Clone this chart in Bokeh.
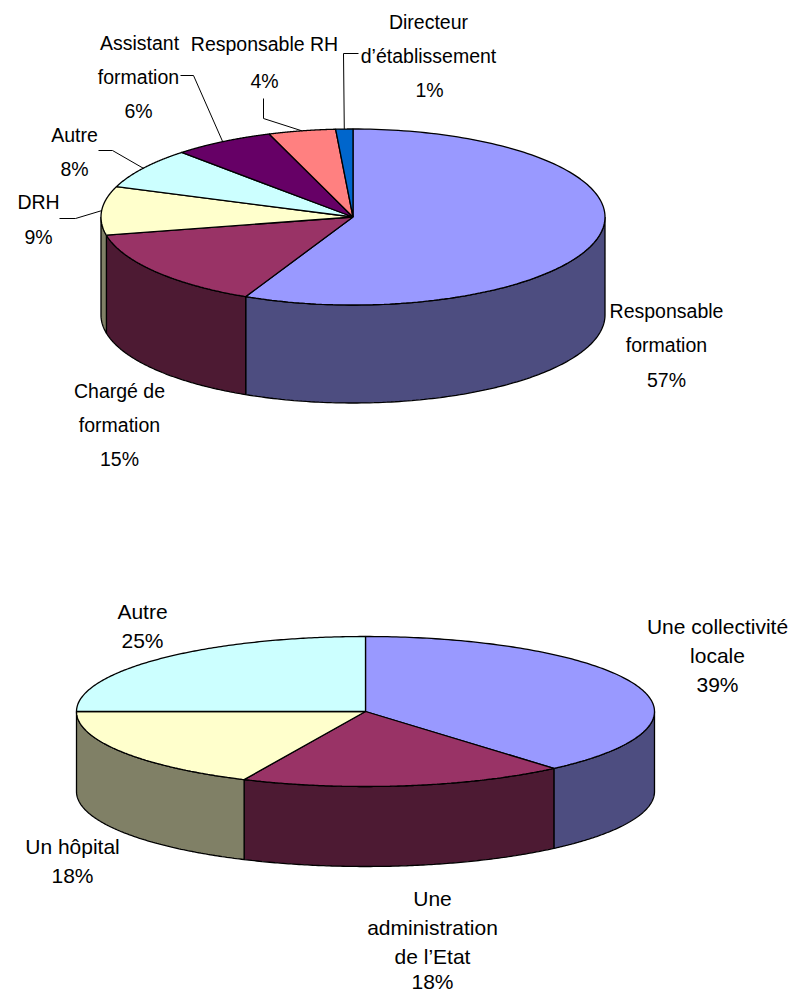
import numpy as np
from bokeh.embed import file_html
from bokeh.models import Range1d
from bokeh.plotting import figure
from bokeh.resources import INLINE
from bokeh.core.properties import value

# ---- data -------------------------------------------------------------
roles = ["Responsable formation", "Chargé de formation", "DRH", "Autre",
         "Assistant formation", "Responsable RH", "Directeur d’établissement"]
role_values = [57.0, 14.7, 8.9, 7.5, 6.5, 4.3, 1.1]
role_tops = ["#9999FF", "#993366", "#FFFFCC", "#CCFFFF", "#660066", "#FF8080", "#0066CC"]
role_sides = ["#4D4D80", "#4D1A33", "#808066", "#668080", "#330033", "#804040", "#003366"]

origins = ["Une collectivité locale", "Une administration de l’Etat", "Un hôpital", "Autre"]
origin_values = [38.7, 18.2, 18.1, 25.0]
origin_tops = ["#9999FF", "#993366", "#FFFFCC", "#CCFFFF"]
origin_sides = ["#4D4D80", "#4D1A33", "#808066", "#668080"]

# ---- layout -----------------------------------------------------------
PAGE_W, PAGE_H = 794, 994
TOP_PIE = dict(cx=352.5, cy=216.5, rx=252, ry=88, depth=98)
BOTTOM_PIE = dict(cx=365, cy=711, rx=289, ry=75, depth=80)

# text lines: (text, centre x, centre y)
top_labels = [
    ("Directeur", 428, 21), ("d’établissement", 428, 55), ("1%", 429, 89),
    ("Responsable RH", 264, 43), ("4%", 264, 80),
    ("Assistant", 139, 42), ("formation", 138, 76), ("6%", 138, 110),
    ("Autre", 74, 134), ("8%", 74, 168),
    ("DRH", 38, 201), ("9%", 38, 236),
    ("Chargé de", 119, 390), ("formation", 119, 424), ("15%", 119, 458),
    ("Responsable", 666, 310), ("formation", 666, 344), ("57%", 666, 379),
]
bottom_labels = [
    ("Une collectivité", 717, 626), ("locale", 717, 655), ("39%", 717, 684),
    ("Autre", 142, 611), ("25%", 142, 640),
    ("Un hôpital", 72, 846), ("18%", 72, 875),
    ("Une", 432, 898), ("administration", 432, 927), ("de l’Etat", 432, 956), ("18%", 432, 981),
]
# leader lines: slice index -> elbow points from the label to the slice
leaders = {
    6: [(358, 53), (343, 53)],
    5: [(263, 98), (263, 118)],
    4: [(180, 75), (193, 75)],
    3: [(98, 150), (112, 150)],
    2: [(59, 218), (75, 218)],
}

p = figure(width=PAGE_W, height=PAGE_H,
           x_range=Range1d(0, PAGE_W), y_range=Range1d(PAGE_H, 0),
           output_backend="svg", toolbar_location=None, min_border=0,
           x_axis_type=None, y_axis_type=None)
p.grid.visible = False
p.outline_line_color = None


def ell(pie, theta, dy=0.0):
    t = np.radians(theta)
    return pie["cx"] + pie["rx"] * np.sin(t), pie["cy"] - pie["ry"] * np.cos(t) + dy


def draw_pie(pie, values, tops, sides):
    edges = np.concatenate([[0], np.cumsum(values)])
    edges = edges / edges[-1] * 360.0
    # visible wall pieces (front half of the disc)
    for a, b, col in zip(edges[:-1], edges[1:], sides):
        lo, hi = max(a, 90.0), min(b, 270.0)
        if hi <= lo:
            continue
        th = np.linspace(lo, hi, 120)
        x1, y1 = ell(pie, th)
        x2, y2 = ell(pie, th[::-1], pie["depth"])
        p.patch(np.r_[x1, x2], np.r_[y1, y2], fill_color=col,
                line_color="#000000", line_width=1.3)
    # top slices
    for a, b, col in zip(edges[:-1], edges[1:], tops):
        th = np.linspace(a, b, 160)
        x, y = ell(pie, th)
        p.patch(np.r_[pie["cx"], x], np.r_[pie["cy"], y], fill_color=col,
                line_color="#000000", line_width=1.3)
    return edges


def draw_text(labels, font, size):
    p.text([l[1] for l in labels], [l[2] for l in labels], text=[l[0] for l in labels],
           text_font=value(font), text_font_size=size, text_color="#000000",
           text_align="center", text_baseline="middle")


edges = draw_pie(TOP_PIE, role_values, role_tops, role_sides)
draw_pie(BOTTOM_PIE, origin_values, origin_tops, origin_sides)

for idx, pts in leaders.items():
    mx, my = ell(TOP_PIE, (edges[idx] + edges[idx + 1]) / 2)
    p.line([q[0] for q in pts] + [float(mx)], [q[1] for q in pts] + [float(my)],
           line_color="#000000", line_width=1)

draw_text(top_labels, "Liberation Sans", "19.5px")
draw_text(bottom_labels, "Liberation Sans", "21px")

open("out.html", "w").write(file_html(p, INLINE))
